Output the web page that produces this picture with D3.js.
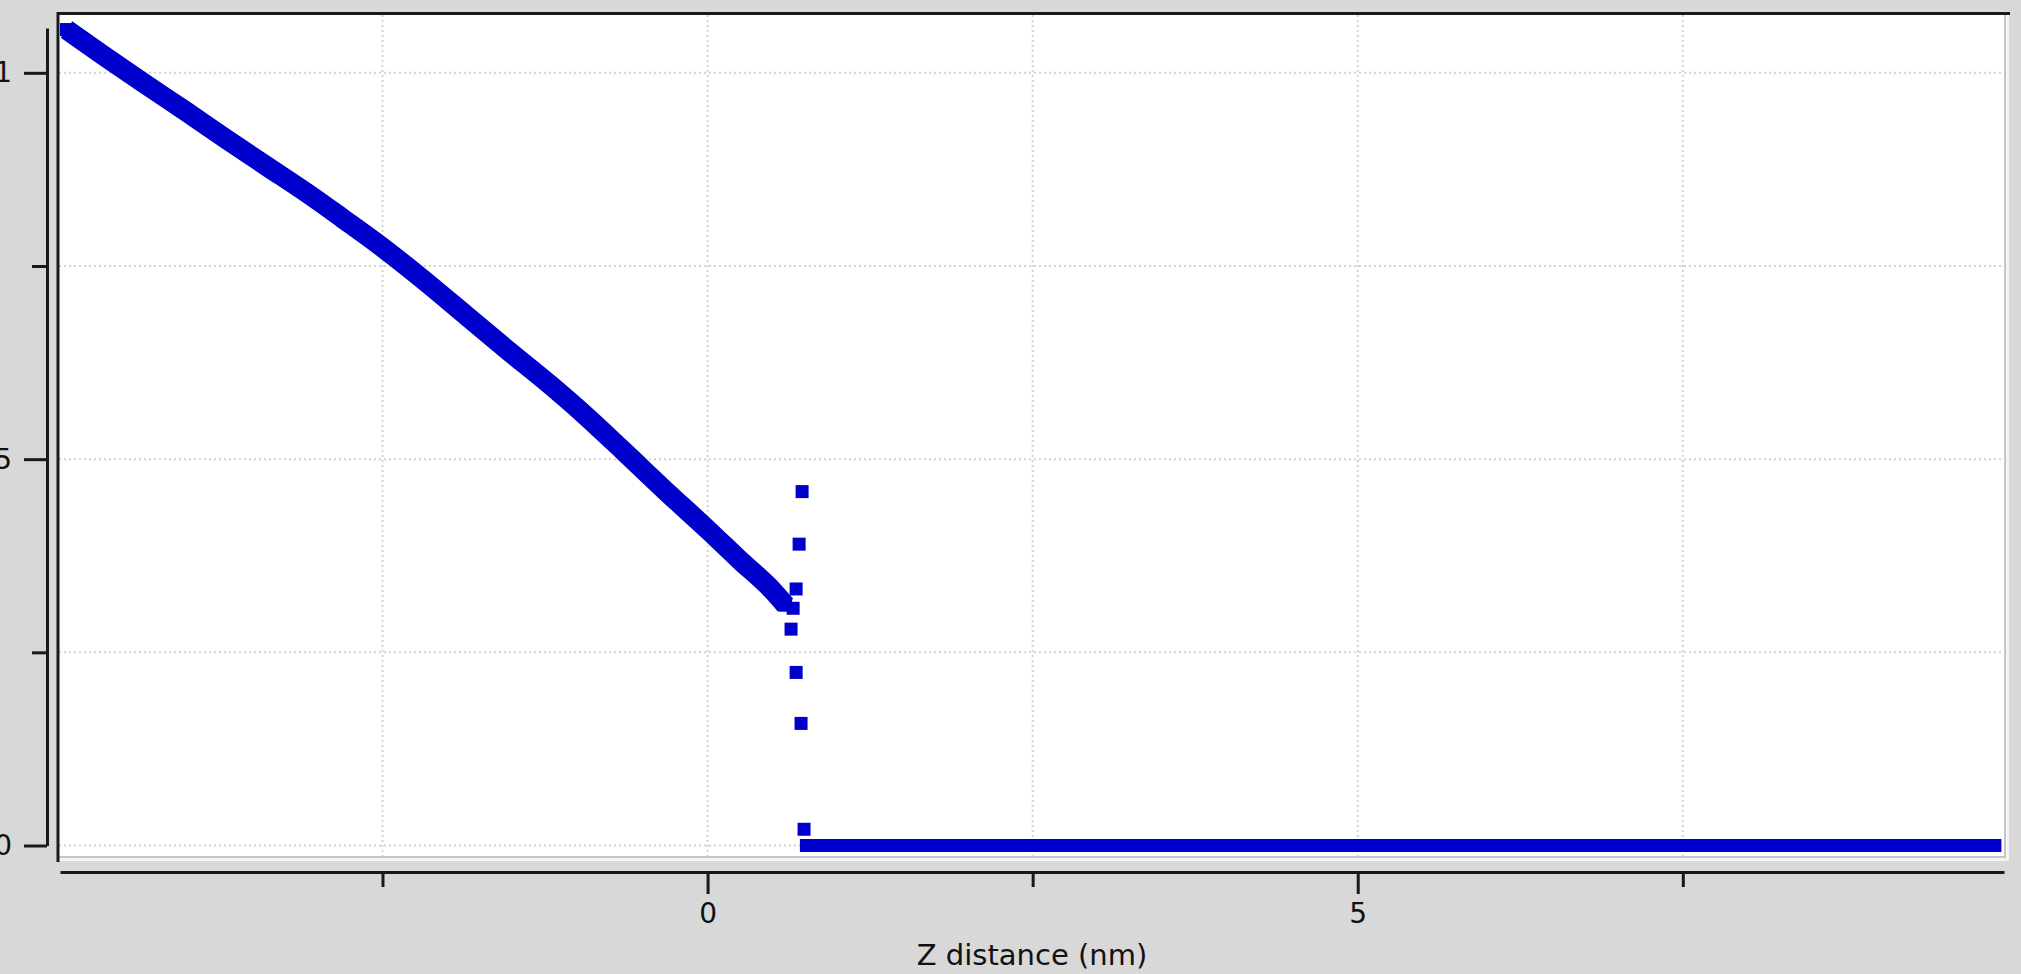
<!DOCTYPE html>
<html>
  <head>
    <meta charset="utf-8">
    <title>Z distance</title>
    <script src="https://cdn.jsdelivr.net/npm/d3@7/dist/d3.min.js"></script>
    <style>
      body { margin: 0; background: #d8d8d8; overflow: hidden; }
      svg { display: block; }
      .axis text { font-family: "DejaVu Sans", sans-serif; font-size: 28px; fill: #111; }
      .axis path, .axis line { stroke: #1a1a1a; stroke-width: 3; }
      .grid line { stroke: #d2d2d2; stroke-width: 2; stroke-dasharray: 2,3; }
    </style>
  </head>

  <body>
    <div id="container"></div>

    <script>
      // data
      // approach curve (nm, signal)
      approachX = [-4.93, -4.66, -4.34, -4.02, -3.70, -3.38, -3.06, -2.81, -2.50, -2.17,
                   -1.85, -1.53, -1.21, -0.97, -0.65, -0.33, 0.00, 0.25, 0.50, 0.60];
      approachY = [1.056, 1.024, 0.987, 0.951, 0.914, 0.878, 0.842, 0.812, 0.774, 0.730,
                   0.685, 0.640, 0.596, 0.561, 0.511, 0.460, 0.409, 0.369, 0.330, 0.311];
      // jump-to-contact points
      jumpX = [0.658, 0.681, 0.704, 0.727, 0.642, 0.681, 0.719, 0.742];
      jumpY = [0.307, 0.332, 0.390, 0.458, 0.280, 0.224, 0.158, 0.021];
      // contact plateau
      contactX = [0.76, 9.90];
      contactY = [0, 0];

      xMajor = [0, 5];
      xMinor = [-2.5, 2.5, 7.5];
      yMajor = [0, 0.5, 1];
      yMinor = [0.25, 0.75];
      xLabel = "Z distance (nm)";

      blue = "#0000cc";
      width = 2021;
      height = 974;

      frame = {left: 59, top: 15, right: 2004, bottom: 856};

      svg = d3.select("#container").append("svg")
        .attr("width", width)
        .attr("height", height);

      xScale = d3.scaleLinear()
        .domain([-4.98, 9.97])
        .range([60, 2004]);
      yScale = d3.scaleLinear()
        .domain([0, 1.058])
        .range([845.5, 28]);

      // plot area with bevel
      svg.append("rect")
        .attr("x", frame.left)
        .attr("y", frame.top)
        .attr("width", frame.right - frame.left)
        .attr("height", frame.bottom - frame.top)
        .style("fill", "#fff");
      svg.append("path")
        .attr("d", `M${frame.left},${frame.bottom + 1}H${frame.right + 1}V${frame.top}`)
        .style("fill", "none").style("stroke", "#c6c6c6").style("stroke-width", 2);
      svg.append("path")
        .attr("d", `M${frame.left},${frame.bottom + 3.5}H${frame.right + 3.5}V${frame.top}`)
        .style("fill", "none").style("stroke", "#f4f4f4").style("stroke-width", 3);

      // grid
      grid = svg.append("g").classed("grid", true);
      grid.selectAll(".gx")
        .data(xMajor.concat(xMinor))
        .enter().append("line")
          .attr("x1", d => xScale(d)).attr("x2", d => xScale(d))
          .attr("y1", frame.top).attr("y2", frame.bottom);
      grid.selectAll(".gy")
        .data(yMajor.concat(yMinor))
        .enter().append("line")
          .attr("x1", frame.left).attr("x2", frame.right)
          .attr("y1", d => yScale(d)).attr("y2", d => yScale(d));

      // series
      approach = approachX.map((d, i) => ({x: d, y: approachY[i]}));
      jump = jumpX.map((d, i) => ({x: d, y: jumpY[i]}));
      contact = contactX.map((d, i) => ({x: d, y: contactY[i]}));

      line = d3.line()
        .x(d => xScale(d.x))
        .y(d => yScale(d.y))
        .curve(d3.curveMonotoneX);

      plot = svg.append("g");

      plot.append("path")
        .datum(approach)
        .attr("d", line)
        .style("fill", "none")
        .style("stroke", blue)
        .style("stroke-width", 20)
        .style("stroke-linejoin", "round");

      plot.append("path")
        .datum(contact)
        .attr("d", line)
        .style("fill", "none")
        .style("stroke", blue)
        .style("stroke-width", 13);

      size = 13;
      plot.selectAll(".marker")
        .data(approach.concat(jump, contact))
        .enter().append("rect")
          .attr("x", d => xScale(d.x) - size / 2)
          .attr("y", d => yScale(d.y) - size / 2)
          .attr("width", size)
          .attr("height", size)
          .style("fill", blue);

      // frame top/left
      svg.append("path")
        .attr("d", `M${frame.left - 1},862V${frame.top - 1.5}H2010`)
        .style("fill", "none").style("stroke", "#1a1a1a").style("stroke-width", 3);

      // x axis
      svg.append("g")
        .classed("axis", true)
        .attr("transform", "translate(0, 872)")
        .call(d3.axisBottom(xScale)
          .tickValues(xMajor)
          .tickSizeInner(22)
          .tickSizeOuter(0)
          .tickPadding(9)
          .tickFormat(d3.format("d"))
        );
      svg.append("g")
        .classed("axis", true)
        .attr("transform", "translate(0, 872)")
        .call(d3.axisBottom(xScale)
          .tickValues(xMinor)
          .tickSizeInner(15)
          .tickSizeOuter(0)
          .tickFormat("")
        )
        .select(".domain").remove();

      // y axis
      svg.append("g")
        .classed("axis", true)
        .attr("transform", "translate(47, 0)")
        .call(d3.axisLeft(yScale)
          .tickValues(yMajor)
          .tickSizeInner(23)
          .tickSizeOuter(0)
          .tickPadding(12)
          .tickFormat(d => d === 0.5 ? "0.5" : d3.format("d")(d))
        );
      svg.append("g")
        .classed("axis", true)
        .attr("transform", "translate(47, 0)")
        .call(d3.axisLeft(yScale)
          .tickValues(yMinor)
          .tickSizeInner(15)
          .tickSizeOuter(0)
          .tickFormat("")
        )
        .select(".domain").remove();

      // axis title
      svg.append("text")
        .attr("x", (60 + 2004) / 2)
        .attr("y", 965)
        .attr("text-anchor", "middle")
        .style("font-family", "'DejaVu Sans', sans-serif")
        .style("font-size", "29px")
        .style("fill", "#111")
        .text(xLabel);
    </script>
  </body>
</html>
